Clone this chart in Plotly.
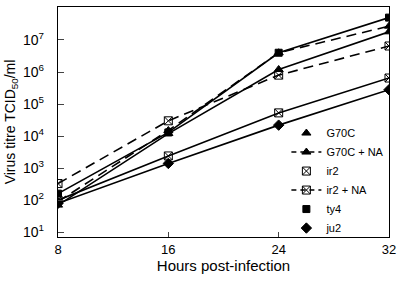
import plotly.graph_objects as go

hours = [8, 16, 24, 32]
names = ["G70C", "G70C + NA", "ir2", "ir2 + NA", "ty4", "ju2"]
g70c = [70, 1.2e4, 1.2e6, 1.8e7]
g70c_na = [90, 1.5e4, 4.0e6, 2.7e7]
ir2 = [100, 2.4e3, 5.3e4, 6.5e5]
ir2_na = [330, 3.0e4, 8.0e5, 6.5e6]
ty4 = [160, 1.3e4, 4.0e6, 5.0e7]
ju2 = [80, 1.4e3, 2.2e4, 2.8e5]
series = [g70c, g70c_na, ir2, ir2_na, ty4, ju2]
tick_vals = [1e1, 1e2, 1e3, 1e4, 1e5, 1e6, 1e7]
tick_text = ["10<sup>1</sup>", "10<sup>2</sup>", "10<sup>3</sup>", "10<sup>4</sup>",
             "10<sup>5</sup>", "10<sup>6</sup>", "10<sup>7</sup>"]

symbols = ["triangle-up", "triangle-up", "square-x-open", "square-x-open", "square", "diamond"]
dashes = ["solid", "10px,6px", "solid", "10px,6px", "solid", "solid"]
sizes = [8, 8, 8, 8, 7, 8]

fig = go.Figure()
for nm, ys, sym, d, s in zip(names, series, symbols, dashes, sizes):
    fig.add_trace(go.Scatter(
        x=hours, y=ys, mode="lines+markers", showlegend=False,
        line=dict(color="black", width=1.6, dash=d),
        marker=dict(symbol=sym, size=s, color="black", line=dict(color="black", width=1)),
    ))
for nm, sym, d, s in zip(names, symbols, dashes, sizes):
    fig.add_trace(go.Scatter(
        x=[None], y=[None], name=nm,
        mode="markers" if d == "solid" else "lines+markers",
        line=dict(color="black", width=1.4, dash="5px,4px"),
        marker=dict(symbol=sym, size=s, color="black", line=dict(color="black", width=1)),
    ))

fig.update_layout(
    width=400, height=281,
    margin=dict(l=58, r=11, t=7, b=44),
    paper_bgcolor="white", plot_bgcolor="white",
    font=dict(family="Liberation Sans, Arial, sans-serif", color="black", size=13),
    legend=dict(x=0.69, y=0.515, xanchor="left", yanchor="top",
                bgcolor="rgba(0,0,0,0)", font=dict(size=11), tracegroupgap=0,
                itemwidth=30),
    xaxis=dict(range=[8, 32], tickvals=hours, ticks="inside", ticklen=5,
               showline=True, linecolor="black", linewidth=1.3, mirror=True,
               showgrid=False, zeroline=False, automargin=False,
               title=dict(text="Hours post-infection", font=dict(size=15), standoff=4),
               tickfont=dict(size=13)),
    yaxis=dict(type="log", range=[0.85, 8.03], tickvals=tick_vals, ticktext=tick_text,
               ticks="inside", ticklen=6, showline=True, linecolor="black", linewidth=1.3,
               mirror=True, showgrid=False, zeroline=False, automargin=False,
               ticklabelstandoff=10,
               title=dict(text="Virus titre TCID<sub>50</sub>/ml", font=dict(size=14), standoff=4),
               tickfont=dict(size=14)),
)
fig.write_html("out.html", config={"displayModeBar": False},
               post_script="document.body.style.margin='0';document.body.style.padding='0';")
